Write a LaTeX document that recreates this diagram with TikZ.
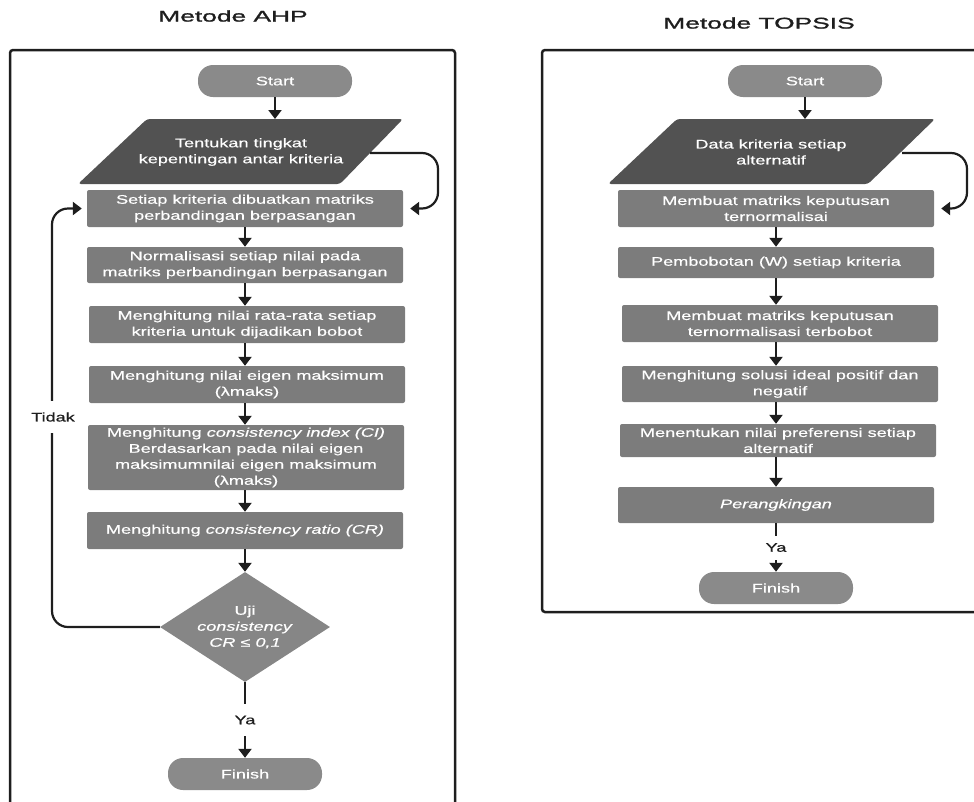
\documentclass[tikz,border=0pt]{standalone}
\usepackage{fontspec}
\setmainfont{Liberation Sans}[FakeStretch=1.45,FakeBold=0.5]
\newfontfamily\titlefont{Liberation Sans}[FakeStretch=1.7,FakeBold=1.4]
\usetikzlibrary{shapes.geometric,arrows.meta}
\definecolor{boxgray}{HTML}{7C7C7C}
\definecolor{paragray}{HTML}{525252}
\definecolor{termgray}{HTML}{8A8A8A}
\definecolor{decgray}{HTML}{868686}
\definecolor{ink}{HTML}{1E1E1E}
\tikzset{
  box/.style={fill=boxgray, rounded corners=2pt, minimum width=316pt, text=white, align=center,
    font=\fontsize{12.5}{16}\selectfont, inner sep=0pt},
  term/.style={fill=termgray, rounded corners=15pt, minimum width=154pt, minimum height=32pt,
    text=white, font=\fontsize{12.5}{16}\selectfont, inner sep=0pt},
  ptext/.style={text=white, align=center, font=\fontsize{12.5}{16}\selectfont, inner sep=0pt},
  dec/.style={diamond, fill=decgray, aspect=1.55, minimum width=170pt, minimum height=110pt,
    text=white, align=center, font=\fontsize{12.5}{16}\selectfont, inner sep=0pt},
  arr/.style={-{Triangle[width=13pt,length=9pt]}, line width=2.2pt, draw=ink},
  lab/.style={fill=white, text=ink, font=\fontsize{12.5}{16}\selectfont, inner sep=0pt, minimum width=40pt},
  frame/.style={draw=ink, line width=2.5pt, rounded corners=3pt},
  ttl/.style={text=ink, font=\titlefont\fontsize{15.5}{18}\selectfont}
}
\begin{document}
\begin{tikzpicture}[x=1pt,y=-1pt]
\useasboundingbox (0,0) rectangle (974,801);
\clip (0,0) rectangle (974,801);

% titles
\node[ttl] (t1) at (233,16) {Metode AHP};
\node[ttl] (t2) at (759,23) {Metode TOPSIS};

% frames
\draw[frame] (10,50) rectangle (455,830);
\draw[frame] (542,50) rectangle (1000,612);

% ---------------- AHP ----------------
\node[term] (s1) at (275,81) {Start};
\fill[paragray, rounded corners=3pt] (147,119) -- (403,119) -- (340,184) -- (78,184) -- cycle;
\node[ptext] (p1) at (241,152) {Tentukan tingkat\\kepentingan antar kriteria};
\coordinate (p1top) at (275,119);
\coordinate (p1r) at (370,153);

\node[box, minimum height=37pt] (b1) at (245,208.5) {Setiap kriteria dibuatkan matriks\\perbandingan berpasangan};
\node[box, minimum height=36pt] (b2) at (245,265) {Normalisasi setiap nilai pada\\matriks perbandingan berpasangan};
\node[box, minimum height=37pt] (b3) at (247,324.5) {Menghitung nilai rata-rata setiap\\kriteria untuk dijadikan bobot};
\node[box, minimum height=37pt] (b4) at (247,384.5) {Menghitung nilai eigen maksimum\\(λmaks)};
\node[box, minimum height=65pt] (b5) at (246,457.5) {Menghitung \textit{consistency index (CI)}\\Berdasarkan pada nilai eigen\\maksimumnilai eigen maksimum\\(λmaks)};
\node[box, minimum height=37pt] (b6) at (245,530.5) {Menghitung \textit{consistency ratio (CR)}};
\node[dec] (d1) at (245,627) {Uji\\\textit{consistency}\\\textit{CR ≤ 0,1}};
\node[term] (f1) at (245,774) {Finish};

\draw[arr] (s1.south) -- (p1top);
\draw[arr, rounded corners=16pt] (p1r) -- (438,153) -- (438,208.5) -- ([xshift=7pt]b1.east);
\draw[arr] (b1.south -| 245,0) -- (b2.north -| 245,0);
\draw[arr] (b2.south -| 245,0) -- (b3.north -| 245,0);
\draw[arr] (b3.south -| 245,0) -- (b4.north -| 245,0);
\draw[arr] (b4.south -| 245,0) -- (b5.north -| 245,0);
\draw[arr] (b5.south -| 245,0) -- (b6.north -| 245,0);
\draw[arr] (b6.south) -- (d1.north);
\draw[arr, rounded corners=16pt] (d1.west) -- (52,627) -- (52,208.5) -- ([xshift=-5pt]b1.west);
\node[lab, minimum height=32pt] (tidak) at (53,417) {Tidak};
\draw[arr] (d1.south) -- node[lab, minimum height=32pt] (ya1) {Ya} (f1.north);

% ---------------- TOPSIS ----------------
\node[term] (s2) at (805,81) {Start};
\fill[paragray, rounded corners=3pt] (677,119) -- (935,119) -- (868,184) -- (608,184) -- cycle;
\node[ptext] (p2) at (771,152) {Data kriteria setiap\\alternatif};
\coordinate (p2top) at (805,119);
\coordinate (p2r) at (902,153);

\node[box, minimum height=37pt] (r1) at (776,208.5) {Membuat matriks keputusan\\ternormalisai};
\node[box, minimum height=31pt] (r2) at (776,262.5) {Pembobotan (W) setiap kriteria};
\node[box, minimum height=37pt] (r3) at (780,323.5) {Membuat matriks keputusan\\ternormalisasi terbobot};
\node[box, minimum height=36pt] (r4) at (780,384) {Menghitung solusi ideal positif dan\\negatif};
\node[box, minimum height=33pt] (r5) at (778,440.5) {Menentukan nilai preferensi setiap\\alternatif};
\node[box, minimum height=36pt] (r6) at (776,505) {\textit{Perangkingan}};
\node[term] (f2) at (776,588) {Finish};

\draw[arr] (s2.south) -- (p2top);
\draw[arr, rounded corners=16pt] (p2r) -- (967,153) -- (967,208.5) -- ([xshift=7pt]r1.east);
\draw[arr] (r1.south -| 776,0) -- (r2.north -| 776,0);
\draw[arr] (r2.south -| 776,0) -- (r3.north -| 776,0);
\draw[arr] (r3.south -| 776,0) -- (r4.north -| 776,0);
\draw[arr] (r4.south -| 776,0) -- (r5.north -| 776,0);
\draw[arr] (r5.south -| 776,0) -- (r6.north -| 776,0);
\draw[arr] (r6.south) -- node[lab, minimum height=24pt] (ya2) {Ya} (f2.north);
\end{tikzpicture}
\end{document}
